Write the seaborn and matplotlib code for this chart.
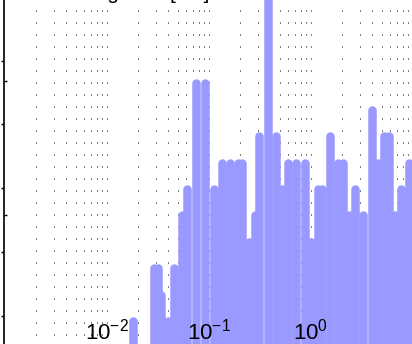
import numpy as np
import matplotlib
matplotlib.use("Agg")
import matplotlib.pyplot as plt
import seaborn as sns
from matplotlib.ticker import LogLocator, NullFormatter

# Histogram bars (bar position in ms, count)
lag_ms = [0.018, 0.0292, 0.0316, 0.0337, 0.0392, 0.0456, 0.0547, 0.0612, 0.075, 0.0909,
          0.111, 0.134, 0.161, 0.192, 0.211, 0.244, 0.284, 0.306, 0.375, 0.454,
          0.52, 0.595, 0.713, 0.864, 1.0, 1.16, 1.28, 1.54, 1.86, 2.05,
          2.36, 2.70, 3.27, 3.96, 4.54, 5.23, 5.79, 6.66, 7.63, 9.14]
counts = [1, 3, 3, 2, 1, 3, 5, 6, 10, 10,
          6, 7, 7, 7, 7, 4, 5, 8, 14, 8,
          6, 7, 7, 7, 4, 6, 6, 8, 7, 7,
          5, 6, 5, 9, 7, 8, 8, 5, 6, 7]
decade_ticks = [1e-2, 1e-1, 1e0]
left_major_ticks = [1.2, 3.62, 6.04, 8.46, 10.84]
left_minor_ticks = [5.02, 10.08]
title = "Lag time [ms]"

sns.set_theme(style="white")
plt.rcParams["font.family"] = ["Liberation Sans", "DejaVu Sans"]
plt.rcParams["mathtext.fontset"] = "custom"
plt.rcParams["mathtext.rm"] = "Liberation Sans"
plt.rcParams["mathtext.it"] = "Liberation Sans:italic"

W, H = 412, 344
fig = plt.figure(figsize=(W / 100, H / 100), dpi=100)

# layout in pixels: axes left edge, pixels per decade, where 1e-2 sits
left_px = 3.7
decade_px = 102.0
ref_px = 107.0
bar_px = 8.5
count_px = 26.44
zero_top_px = 343.4  # top of a zero-height bar, from the image top

def px_to_x(p):
    return 10 ** ((p - ref_px) / decade_px - 2)

rect = [left_px / W, 0, (W - left_px) / W, 1]
ax = fig.add_axes(rect)
ax.set_xscale("log")
ax.set_xlim(px_to_x(left_px), px_to_x(W))
r = bar_px / 2
ax.set_ylim((zero_top_px + r - H) / count_px, (zero_top_px + r) / count_px)

ax.vlines(lag_ms, 0, counts, colors="#9999ff", linewidth=bar_px * 0.72,
          capstyle="round", zorder=2)

ax.set_xticks(decade_ticks)
ax.xaxis.set_minor_locator(LogLocator(base=10, subs=np.arange(2, 10), numticks=30))
ax.xaxis.set_minor_formatter(NullFormatter())
ax.grid(False)
ax.grid(True, which="both", axis="x", color="black", linewidth=0.72,
        linestyle=(3, (1, 11)))
ax.set_axisbelow(True)
ax.tick_params(axis="x", which="both", length=0, labelbottom=False)

ax.set_yticks(left_major_ticks)
ax.set_yticks(left_minor_ticks, minor=True)
ax.tick_params(axis="y", which="major", left=True, direction="out", length=2.3,
               width=1.0, color="black", labelleft=False)
ax.tick_params(axis="y", which="minor", left=True, direction="in", length=2.3,
               width=1.0, color="black", labelleft=False)
for side in ["top", "right", "bottom"]:
    ax.spines[side].set_visible(False)
ax.spines["left"].set_color("black")
ax.spines["left"].set_linewidth(1.2)

# overlay axes so the tick labels sit on top of the bars
lab = fig.add_axes(rect, sharex=ax)
lab.patch.set_visible(False)
for s in lab.spines.values():
    s.set_visible(False)
lab.grid(False)
lab.tick_params(axis="x", which="both", length=0, labelsize=16, pad=-18.5,
                labelbottom=True, labelcolor="black")
lab.tick_params(axis="y", which="both", left=False, labelleft=False)

fig.text(147 / W, 1 + 1 / H, title, ha="center", va="baseline", fontsize=15,
         color="black")

fig.savefig("out.png", dpi=100)
